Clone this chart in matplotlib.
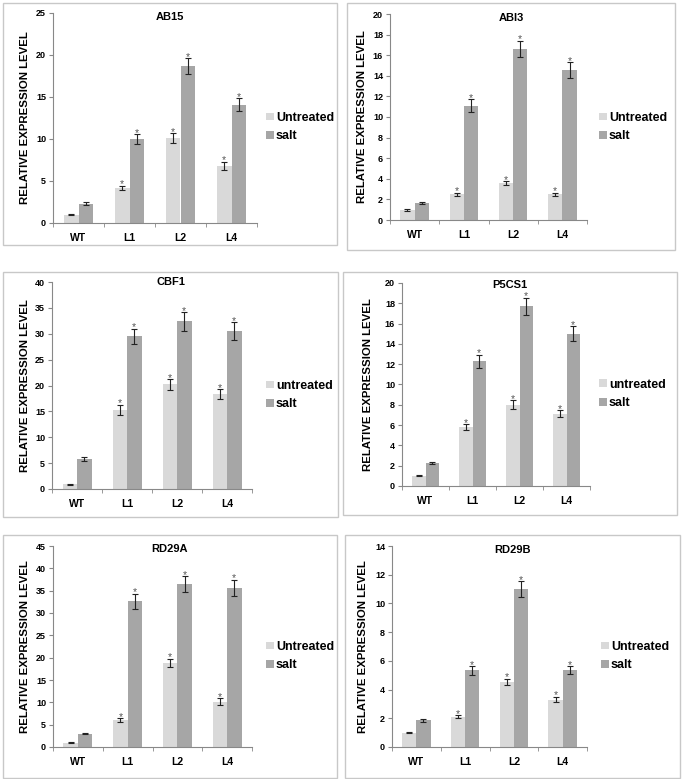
import matplotlib.pyplot as plt
from matplotlib.patches import Rectangle
import numpy as np

plt.rcParams['font.family'] = ['Liberation Sans', 'DejaVu Sans']

groups = ["WT", "L1", "L2", "L4"]

# AB15
ab15_untr = [1.0, 4.2, 10.1, 6.8]
ab15_untr_err = [0.1, 0.25, 0.6, 0.5]
ab15_salt = [2.3, 9.95, 18.7, 14.1]
ab15_salt_err = [0.15, 0.6, 0.93, 0.75]

# ABI3
abi3_untr = [0.97, 2.5, 3.56, 2.5]
abi3_untr_err = [0.08, 0.15, 0.2, 0.15]
abi3_salt = [1.62, 11.1, 16.6, 14.55]
abi3_salt_err = [0.08, 0.65, 0.8, 0.75]

# CBF1
cbf1_untr = [0.9, 15.3, 20.2, 18.3]
cbf1_untr_err = [0.1, 1.0, 1.05, 1.0]
cbf1_salt = [5.8, 29.5, 32.4, 30.5]
cbf1_salt_err = [0.4, 1.5, 1.8, 1.7]

# P5CS1
p5cs1_untr = [1.0, 5.8, 8.0, 7.1]
p5cs1_untr_err = [0.05, 0.3, 0.45, 0.35]
p5cs1_salt = [2.3, 12.3, 17.7, 15.0]
p5cs1_salt_err = [0.1, 0.65, 0.85, 0.75]

# RD29A
rd29a_untr = [1.0, 6.0, 18.8, 10.1]
rd29a_untr_err = [0.05, 0.4, 1.0, 0.8]
rd29a_salt = [3.0, 32.6, 36.4, 35.7]
rd29a_salt_err = [0.15, 1.7, 1.8, 1.8]

# RD29B
rd29b_untr = [1.0, 2.1, 4.52, 3.3]
rd29b_untr_err = [0.05, 0.1, 0.22, 0.2]
rd29b_salt = [1.85, 5.33, 11.0, 5.35]
rd29b_salt_err = [0.08, 0.3, 0.55, 0.28]

W, H = 683, 779
fig = plt.figure(figsize=(W / 100, H / 100), dpi=100)

c_untr = "#d9d9d9"
c_salt = "#a6a6a6"


def fx(px):
    return px / W


def fy(py):
    return 1 - py / H


def panel(box, ax_px, title, title_y, ylab_x, leg_xy, untr, untr_err, salt, salt_err,
          ymax, ystep, untr_label):
    # border
    x0, y0, x1, y1 = box
    fig.patches.append(Rectangle((fx(x0), fy(y1)), fx(x1 - x0), (y1 - y0) / H,
                                 transform=fig.transFigure, fill=False,
                                 edgecolor="#c8c8c8", linewidth=1.0))
    l, t, r, b = ax_px
    ax = fig.add_axes([fx(l), fy(b), fx(r - l), (b - t) / H])
    x = np.arange(len(groups))
    w = 0.29
    b1 = ax.bar(x - w / 2, untr, w, color=c_untr, label=untr_label)
    b2 = ax.bar(x + w / 2, salt, w, color=c_salt, label="salt")
    ax.errorbar(x - w / 2, untr, yerr=untr_err, fmt="none", ecolor="#222222",
                elinewidth=0.8, capsize=2, capthick=0.8)
    ax.errorbar(x + w / 2, salt, yerr=salt_err, fmt="none", ecolor="#222222",
                elinewidth=0.8, capsize=2, capthick=0.8)
    for i in range(1, len(groups)):
        ax.annotate("*", (x[i] - w / 2, untr[i] + untr_err[i]), xytext=(0, 1),
                    textcoords="offset points", ha="center", va="center",
                    fontsize=7.5, color="#555555")
        ax.annotate("*", (x[i] + w / 2, salt[i] + salt_err[i]), xytext=(0, 1),
                    textcoords="offset points", ha="center", va="center",
                    fontsize=7.5, color="#555555")
    ax.set_xlim(-0.5, len(groups) - 0.5)
    ax.set_ylim(0, ymax)
    ticks = np.arange(0, ymax + 0.01, ystep)
    ax.set_yticks(ticks)
    ax.set_yticklabels([f"{v:g}" for v in ticks], fontsize=6.5, fontweight="bold")
    ax.set_xticks(x)
    ax.set_xticklabels(groups, fontsize=7.5, fontweight="bold")
    ax.set_xticks(np.arange(-0.5, len(groups)), minor=True)
    ax.tick_params(axis="x", which="major", length=0, pad=7)
    ax.tick_params(axis="x", which="minor", length=3, color="#888888")
    ax.tick_params(axis="y", length=3, color="#888888", pad=2)
    for s in ["top", "right"]:
        ax.spines[s].set_visible(False)
    for s in ["left", "bottom"]:
        ax.spines[s].set_color("#888888")
        ax.spines[s].set_linewidth(0.8)
    fig.text(fx((x0 + x1) / 2), fy(title_y), title, ha="center", va="center",
             fontsize=8, fontweight="bold")
    fig.text(fx(ylab_x), fy((t + b) / 2), "RELATIVE EXPRESSION LEVEL", rotation=90,
             ha="center", va="center", fontsize=8.2, fontweight="bold")
    ax.legend(handles=[b1, b2], loc="center left",
              bbox_to_anchor=(fx(leg_xy[0]), fy(leg_xy[1])),
              bbox_transform=fig.transFigure, frameon=False,
              prop={"size": 9, "weight": "bold"}, handlelength=0.6,
              handleheight=0.6, handletextpad=0.2, labelspacing=0.5,
              borderpad=0, borderaxespad=0)
    return ax


panel((3, 3, 337, 245), (53, 13, 257, 223), "AB15", 17, 25, (266, 127),
      ab15_untr, ab15_untr_err, ab15_salt, ab15_salt_err, 25, 5, "Untreated")
panel((347, 3, 675, 250), (390, 14, 587, 220), "ABI3", 18, 362, (599, 127),
      abi3_untr, abi3_untr_err, abi3_salt, abi3_salt_err, 20, 2, "Untreated")
panel((3, 272, 338, 517), (52, 282, 252, 489), "CBF1", 282, 25, (266, 395),
      cbf1_untr, cbf1_untr_err, cbf1_salt, cbf1_salt_err, 40, 5, "untreated")
panel((343, 272, 677, 515), (402, 283, 590, 486), "P5CS1", 285, 368, (599, 394),
      p5cs1_untr, p5cs1_untr_err, p5cs1_salt, p5cs1_salt_err, 20, 2, "untreated")
panel((3, 535, 337, 778), (53, 546, 252, 747), "RD29A", 549, 25, (266, 656),
      rd29a_untr, rd29a_untr_err, rd29a_salt, rd29a_salt_err, 45, 5, "Untreated")
panel((345, 535, 680, 778), (392, 546, 587, 747), "RD29B", 550, 363, (601, 656),
      rd29b_untr, rd29b_untr_err, rd29b_salt, rd29b_salt_err, 14, 2, "Untreated")

fig.savefig("out.png", dpi=100)
